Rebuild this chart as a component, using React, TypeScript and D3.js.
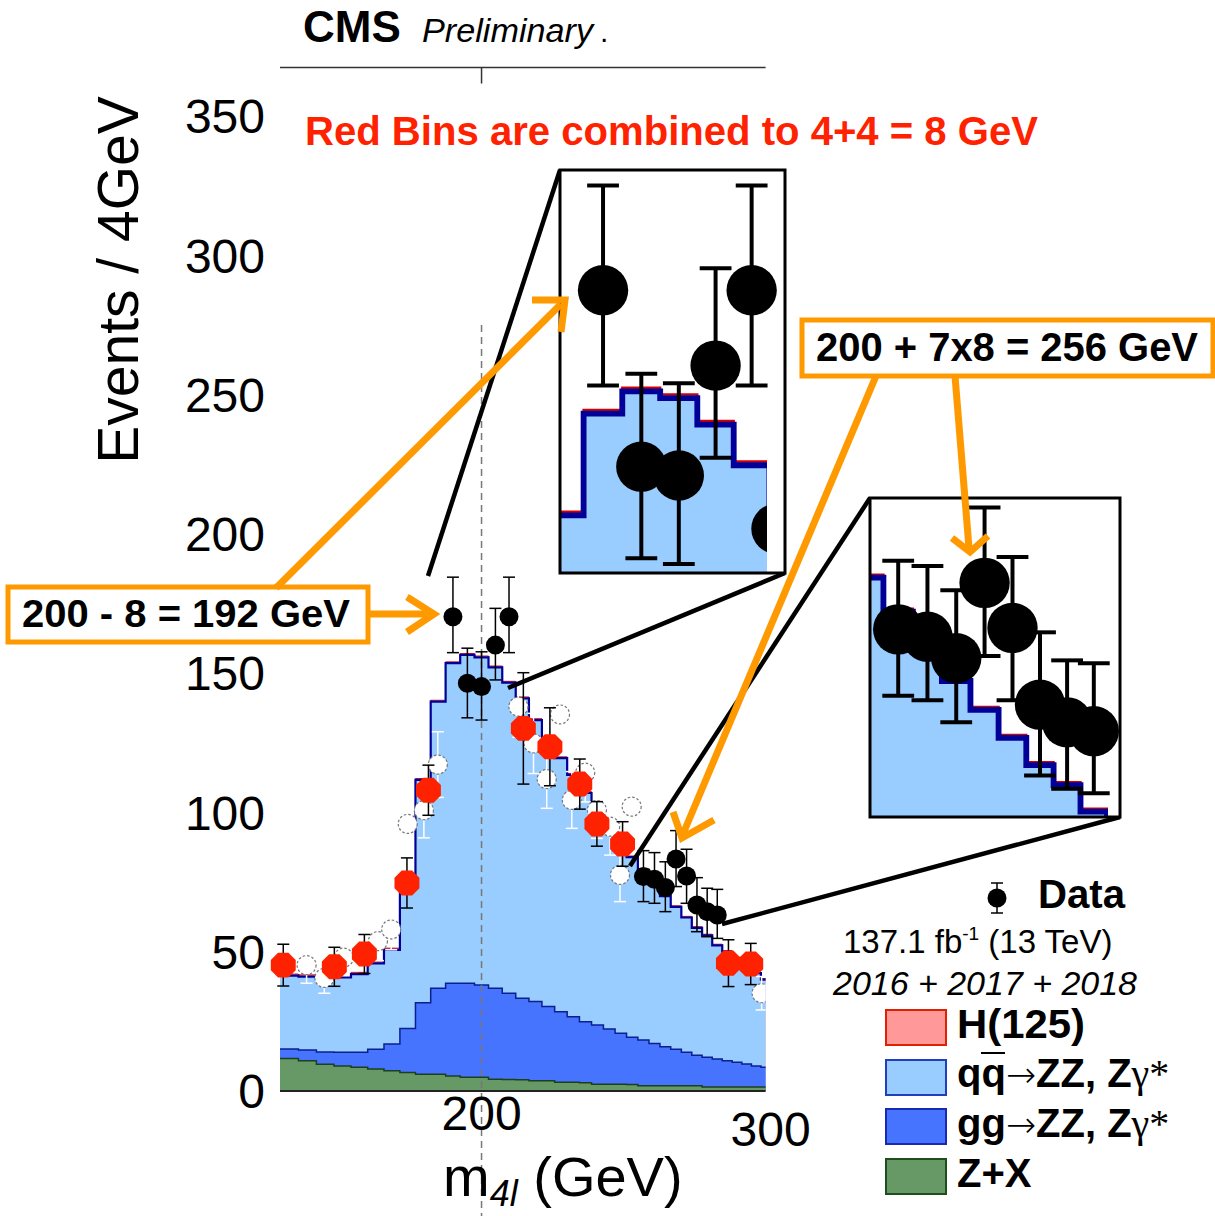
import * as d3 from 'd3'

const FONT = "'Liberation Sans', Arial, Helvetica, sans-serif"

// histogram bins: lower edges in GeV, 4 GeV wide
const binLow = [150, 154, 158, 162, 166, 170, 174, 178, 182, 186, 190, 194, 198, 202, 206, 210, 214, 218, 222, 226, 230, 234, 238, 242, 246, 250, 254, 258, 262, 266, 270, 274, 278, 282, 286, 290, 294, 298]
const zxYield = [11.7, 10.9, 9.6, 9.0, 8.5, 7.9, 7.3, 6.6, 6.0, 6.0, 5.4, 4.9, 4.9, 4.2, 4.1, 4.0, 3.7, 3.7, 3.1, 3.1, 3.0, 2.4, 2.4, 2.4, 2.3, 1.9, 1.9, 1.9, 1.9, 1.9, 1.9, 1.4, 1.4, 1.4, 1.4, 1.4, 1.4, 1.4]
const ggZZYield = [3.4, 3.8, 4.4, 4.9, 5.4, 7.1, 9.6, 15.8, 25.7, 30.9, 33.3, 33.8, 33.2, 32.7, 31.0, 29.3, 28.4, 26.6, 25.4, 23.6, 21.9, 21.3, 19.9, 18.3, 17.0, 16.4, 15.2, 14.0, 13.1, 12.0, 10.9, 10.7, 10.1, 9.5, 8.9, 8.3, 7.6, 7.1]
const qqZZYield = [26.3, 26.4, 26.8, 26.9, 28.1, 30.8, 33.8, 52.6, 80.0, 102.9, 114.9, 117.9, 117.6, 115.2, 111.5, 107.7, 101.1, 94.5, 91.0, 86.8, 82.1, 77.3, 72.7, 68.8, 64.7, 61.1, 58.7, 54.1, 51.1, 48.4, 45.8, 43.8, 40.8, 39.1, 37.3, 35.5, 33.3, 31.5]
const higgsYield = [0.6, 0.6, 0.6, 0.6, 0.6, 0.6, 0.6, 0.6, 0.5, 0.5, 0.5, 0.5, 0.5, 0.5, 0.5, 0.5, 0.5, 0.5, 0.5, 0.5, 0.5, 0.5, 0.4, 0.4, 0.4, 0.4, 0.4, 0.4, 0.4, 0.4, 0.4, 0.4, 0.4, 0.4, 0.4, 0.4, 0.4, 0.4]

// data points still drawn in black
const dataMass = [192, 196, 200, 204, 208, 252, 256, 260, 264, 268, 272, 276, 280]
const dataCount = [170.3, 146.4, 145.2, 160.1, 170.3, 77.0, 76.0, 73.1, 83.3, 77.2, 66.8, 64.4, 63.2]
const dataErrUp = [14.2, 12.6, 12.5, 13.2, 14.2, 9.3, 9.6, 9.2, 10.2, 9.6, 9.8, 8.4, 9.2]
const dataErrDown = [12.9, 12.4, 12.0, 12.5, 12.9, 9.0, 8.6, 8.7, 9.9, 9.8, 9.6, 9.0, 8.4]

// red: bins combined to 8 GeV
const redMass = [150.7, 162.1, 169.2, 179.8, 185.4, 212.3, 220.5, 230.1, 235.8, 244.6, 284.5, 293.7]
const redCount = [45.2, 44.6, 49.2, 74.7, 108.0, 130.2, 123.6, 110.2, 95.9, 88.7, 45.9, 45.6]
const redErr = [7.5, 7, 7, 9, 9, 20, 14, 9, 8, 8, 8.4, 7.4]

// original 4 GeV points that were blanked out (white)
const ghostMass = [155.8, 159.8, 164.3, 172.5, 175.8, 180.0, 184.2, 187.9, 210.8, 215.4, 219.5, 223.7, 227.5, 231.9, 235.8, 240.3, 243.7, 247.8, 298.3]
const ghostCount = [45.2, 40.6, 47.9, 53.8, 58.0, 95.9, 100.8, 117.2, 138.0, 124.8, 112.0, 135.2, 104.5, 114.3, 100.9, 94.9, 77.6, 102.1, 35.1]
const ghostErr = [6.5, 5.5, 6.5, 7, 7.3, 9.5, 9.9, 11.8, 11, 10.8, 10.5, 11, 10.2, 10.5, 10.2, 10.2, 9.6, 10, 6]

const yTicks = [0, 50, 100, 150, 200, 250, 300, 350]
const xTicks = [200, 300]

const layerKeys = ['zx', 'gg', 'qq', 'h']
const layerStyle: Record<string, { fill: string; line: string; lw: number }> = {
  h: { fill: '#ff9b9b', line: '#d40000', lw: 0.9 },
  qq: { fill: '#99ccff', line: '#000099', lw: 2.2 },
  gg: { fill: '#4774ff', line: '#0b1f8f', lw: 1.5 },
  zx: { fill: '#669966', line: '#1c3f1c', lw: 1.5 },
}

const x = d3.scaleLog().domain([150, 300]).range([280, 765.6])
const y = d3.scaleLinear().domain([0, 350]).range([1091, 116.25])
const BIN = 4
const yFrameTop = 367.5

const areaGen = d3
  .area<[number, number]>()
  .x((d) => d[0])
  .y0(y(0))
  .y1((d) => d[1])
const lineGen = d3.line<[number, number]>()
const closedGen = d3.line<[number, number]>().curve(d3.curveLinearClosed)

function stepPoints(top: number[]) {
  const pts: [number, number][] = []
  binLow.forEach((b, i) => {
    pts.push([x(b), y(top[i])])
    pts.push([x(Math.min(b + BIN, 300)), y(top[i])])
  })
  return pts
}

function octagon(cx: number, cy: number, r: number) {
  return closedGen(
    d3.range(8).map((k) => {
      const a = Math.PI / 8 + (k * Math.PI) / 4
      return [cx + r * Math.cos(a), cy + r * Math.sin(a)] as [number, number]
    })
  )
}

function errBar(key: string, cx: number, yTop: number, yBot: number, color: string) {
  return (
    <g key={key} stroke={color} strokeWidth={1.5}>
      <line x1={cx} x2={cx} y1={yTop} y2={yBot} />
      <line x1={cx - 6} x2={cx + 6} y1={yTop} y2={yTop} />
      <line x1={cx - 6} x2={cx + 6} y1={yBot} y2={yBot} />
    </g>
  )
}

const insets = [
  { id: 'zoomPeak', bx: 560, by: 170, bw: 225, bh: 403, histW: 207, massLo: 187.6, countHi: 186.6, k: 2.65, ghosts: true },
  { id: 'zoomTail', bx: 870, by: 498, bw: 250, bh: 319, histW: 238, massLo: 248.2, countHi: 94.8, k: 2.65, ghosts: false },
]
const connectors = [
  [[428, 576], [560, 170]],
  [[508, 688], [785, 573]],
  [[630, 866], [870, 498]],
  [[722, 924], [1120, 817]],
]
const arrows = [
  { shaft: [[368, 614], [430, 614]], head: [[407, 597], [434, 614], [407, 632]] },
  { shaft: [[276, 588], [561, 304]], head: [[532, 300], [565, 300], [561, 332]] },
  { shaft: [[955, 376], [969, 548]], head: [[952, 538], [970, 552], [988, 536]] },
  { shaft: [[876, 376], [683, 834]], head: [[673, 812], [682, 838], [714, 820]] },
]

export default function App() {
  const rows = binLow.map((_, i) => ({ zx: zxYield[i], gg: ggZZYield[i], qq: qqZZYield[i], h: higgsYield[i] }))
  const series = d3.stack<Record<string, number>>().keys(layerKeys)(rows)

  const hist = (
    <g>
      {[...series].reverse().map((s) => {
        const st = layerStyle[s.key]
        const pts = stepPoints(s.map((d) => d[1]))
        return (
          <g key={s.key}>
            <path d={areaGen(pts) ?? ''} fill={st.fill} />
            <path d={lineGen(pts) ?? ''} fill="none" stroke={st.line} strokeWidth={st.lw} />
          </g>
        )
      })}
    </g>
  )

  const dataMarks = (
    <g>
      {dataMass.map((m, i) => (
        <g key={'d' + i}>
          {errBar('de' + i, x(m), y(dataCount[i] + dataErrUp[i]), y(dataCount[i] - dataErrDown[i]), '#000')}
          <circle cx={x(m)} cy={y(dataCount[i])} r={9.5} fill="#000" />
        </g>
      ))}
    </g>
  )

  const ghostsWhite = (
    <g>
      {ghostMass.map((m, i) => (
        <g key={'g' + i}>
          {errBar('ge' + i, x(m), y(ghostCount[i] + ghostErr[i]), y(ghostCount[i] - ghostErr[i]), '#fff')}
          <circle cx={x(m)} cy={y(ghostCount[i])} r={9.5} fill="#fff" stroke="#777" strokeWidth={1.2} strokeDasharray="2.5 2" />
        </g>
      ))}
    </g>
  )
  // in the zoomed insets the blanked points are still the original black dots
  const ghostsBlack = (
    <g>
      {ghostMass.map((m, i) => (
        <circle key={'gb' + i} cx={x(m)} cy={y(ghostCount[i])} r={9.5} fill="#000" />
      ))}
    </g>
  )

  const redMarks = (
    <g>
      {redMass.map((m, i) => errBar('re' + i, x(m), y(redCount[i] + redErr[i]), y(redCount[i] - redErr[i]), '#000'))}
      {redMass.map((m, i) => (
        <path key={'r' + i} d={octagon(x(m), y(redCount[i]), 13.5) ?? ''} fill="#ff2200" />
      ))}
    </g>
  )

  return (
    <svg
      width={1215}
      height={1216}
      style={{ position: 'absolute', left: 0, top: 0, background: '#fff' }}
      fontFamily={FONT}
    >
      <defs>
        <clipPath id="plotClip">
          <rect x={x(150)} y={0} width={x(300) - x(150)} height={1216} />
        </clipPath>
        {insets.map((ins) => (
          <g key={ins.id}>
            <clipPath id={ins.id + 'Hist'}>
              <rect x={ins.bx} y={ins.by} width={ins.histW} height={ins.bh} />
            </clipPath>
            <clipPath id={ins.id + 'Box'}>
              <rect x={ins.bx} y={ins.by} width={ins.bw} height={ins.bh} />
            </clipPath>
          </g>
        ))}
      </defs>

      {/* header */}
      <text x={303} y={42} fontSize={44} fontWeight="bold">CMS</text>
      <text x={422} y={42} fontSize={34} fontStyle="italic" textLength={171} lengthAdjust="spacingAndGlyphs">
        Preliminary
      </text>
      <text x={600} y={42} fontSize={30}>.</text>

      {/* frame top */}
      <line x1={x(150)} x2={x(300)} y1={y(yFrameTop)} y2={y(yFrameTop)} stroke="#333" strokeWidth={1.5} />
      <line x1={x(200)} x2={x(200)} y1={y(yFrameTop)} y2={y(yFrameTop) + 16} stroke="#333" strokeWidth={1.5} />

      <text x={305} y={145} fontSize={40} fontWeight="bold" fill="#ff2200" textLength={733} lengthAdjust="spacingAndGlyphs">
        Red Bins are combined to 4+4 = 8 GeV
      </text>

      {/* y axis labels */}
      {yTicks.map((t) => (
        <text key={t} x={265} y={y(t) + 17} fontSize={48} textAnchor="end">
          {t}
        </text>
      ))}
      <text transform="translate(138,280) rotate(-90)" fontSize={57} textAnchor="middle">
        Events / 4GeV
      </text>

      {/* main plot */}
      {hist}
      <line x1={x(150)} x2={x(300)} y1={y(0)} y2={y(0)} stroke="#222" strokeWidth={2} />
      <line x1={x(200)} x2={x(200)} y1={325} y2={1216} stroke="#777" strokeWidth={1.5} strokeDasharray="7 5" />
      <g clipPath="url(#plotClip)">{ghostsWhite}</g>
      {redMarks}
      {dataMarks}

      {/* x axis labels */}
      {xTicks.map((t, i) => (
        <text key={t} x={x(t) + (i === xTicks.length - 1 ? 5 : 0)} y={i === xTicks.length - 1 ? 1146 : 1130} fontSize={48} textAnchor="middle">
          {t}
        </text>
      ))}
      <text x={443} y={1196} fontSize={56}>
        m
        <tspan fontSize={36} fontStyle="italic" dy={10}>4l</tspan>
        <tspan fontSize={56} dy={-10}> (GeV)</tspan>
      </text>

      {/* zoom connectors */}
      {connectors.map((c, i) => (
        <line key={'c' + i} x1={c[0][0]} y1={c[0][1]} x2={c[1][0]} y2={c[1][1]} stroke="#000" strokeWidth={4.5} />
      ))}

      {/* insets */}
      {insets.map((ins) => {
        const tf = `translate(${ins.bx},${ins.by}) scale(${ins.k}) translate(${-x(ins.massLo)},${-y(ins.countHi)})`
        return (
          <g key={ins.id}>
            <rect x={ins.bx} y={ins.by} width={ins.bw} height={ins.bh} fill="#fff" />
            <g clipPath={`url(#${ins.id}Hist)`}>
              <g transform={tf}>
                {hist}
                {ins.ghosts && ghostsBlack}
              </g>
            </g>
            <g clipPath={`url(#${ins.id}Box)`}>
              <g transform={tf}>{dataMarks}</g>
            </g>
            <rect x={ins.bx} y={ins.by} width={ins.bw} height={ins.bh} fill="none" stroke="#000" strokeWidth={3} />
          </g>
        )
      })}

      {/* legend */}
      {errBar('legData', 997, 883, 913, '#000')}
      <circle cx={997} cy={898} r={9.5} fill="#000" />
      <text x={1038} y={908} fontSize={40} fontWeight="bold" textLength={87} lengthAdjust="spacingAndGlyphs">
        Data
      </text>
      <text x={843} y={953} fontSize={33}>
        137.1 fb
        <tspan fontSize={19} dy={-13}>-1</tspan>
        <tspan fontSize={33} dy={13}> (13 TeV)</tspan>
      </text>
      <text x={833} y={995} fontSize={34} fontStyle="italic" textLength={304} lengthAdjust="spacingAndGlyphs">
        2016 + 2017 + 2018
      </text>

      <rect x={886} y={1010} width={60} height={35} fill="#ff9999" stroke="#e02000" strokeWidth={2} />
      <rect x={886} y={1060} width={60} height={35} fill="#99ccff" stroke="#1f3fbf" strokeWidth={2} />
      <rect x={886} y={1109} width={60} height={35} fill="#4774ff" stroke="#1a2ab0" strokeWidth={2} />
      <rect x={886} y={1159} width={60} height={35} fill="#669966" stroke="#1e4d1e" strokeWidth={2} />
      <text x={957} y={1038} fontSize={40} fontWeight="bold" textLength={128} lengthAdjust="spacingAndGlyphs">
        H(125)
      </text>
      {[1087, 1137].map((by, i) => (
        <text key={'leg' + i} x={957} y={by} fontSize={40}>
          <tspan fontWeight="bold">{i === 0 ? 'qq' : 'gg'}</tspan>
          <tspan fontFamily="'DejaVu Sans'" fontSize={36} fontWeight="200">→</tspan>
          <tspan fontWeight="bold">ZZ, Z</tspan>
          <tspan fontFamily="'Liberation Serif', 'DejaVu Serif', serif">γ*</tspan>
        </text>
      ))}
      <line x1={981} x2={1005} y1={1053} y2={1053} stroke="#000" strokeWidth={2} />
      <text x={957} y={1187} fontSize={40} fontWeight="bold">
        Z+X
      </text>

      {/* orange annotations */}
      <rect x={8} y={587} width={360} height={55} fill="#fff" stroke="#ff9900" strokeWidth={5} />
      <text x={22} y={627} fontSize={39} fontWeight="bold" textLength={328} lengthAdjust="spacingAndGlyphs">
        200 - 8 = 192 GeV
      </text>
      <rect x={802} y={320} width={411} height={56} fill="#fff" stroke="#ff9900" strokeWidth={5} />
      <text x={816} y={361} fontSize={40} fontWeight="bold" textLength={382} lengthAdjust="spacingAndGlyphs">
        200 + 7x8 = 256 GeV
      </text>
      {arrows.map((a, i) => (
        <g key={'a' + i} stroke="#ff9900" strokeWidth={7} fill="none">
          <path d={lineGen(a.shaft as [number, number][]) ?? ''} />
          <path d={lineGen(a.head as [number, number][]) ?? ''} strokeLinejoin="miter" />
        </g>
      ))}
    </svg>
  )
}
